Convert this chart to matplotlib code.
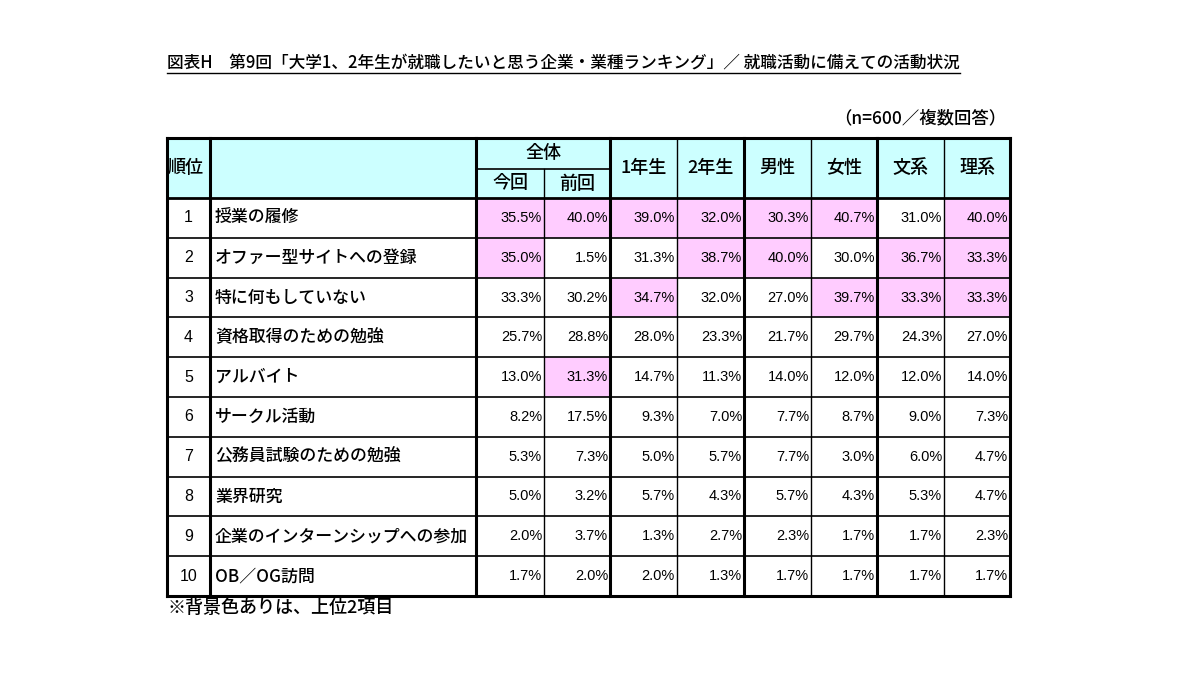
import numpy as np
import matplotlib.pyplot as plt
from matplotlib.patches import Rectangle

plt.rcParams['font.family'] = ['Noto Sans CJK JP', 'DejaVu Sans']

title = '図表H　第9回「大学1、2年生が就職したいと思う企業・業種ランキング」／ 就職活動に備えての活動状況'
note = '（n=600／複数回答）'
footnote = '※背景色ありは、上位2項目'

ranks = ['1', '2', '3', '4', '5', '6', '7', '8', '9', '10']
items = ['授業の履修', 'オファー型サイトへの登録', '特に何もしていない', '資格取得のための勉強',
         'アルバイト', 'サークル活動', '公務員試験のための勉強', '業界研究',
         '企業のインターンシップへの参加', 'OB／OG訪問']
columns = ['今回', '前回', '1年生', '2年生', '男性', '女性', '文系', '理系']

konkai = [35.5, 35.0, 33.3, 25.7, 13.0, 8.2, 5.3, 5.0, 2.0, 1.7]
zenkai = [40.0, 1.5, 30.2, 28.8, 31.3, 17.5, 7.3, 3.2, 3.7, 2.0]
nen1 = [39.0, 31.3, 34.7, 28.0, 14.7, 9.3, 5.0, 5.7, 1.3, 2.0]
nen2 = [32.0, 38.7, 32.0, 23.3, 11.3, 7.0, 5.7, 4.3, 2.7, 1.3]
dansei = [30.3, 40.0, 27.0, 21.7, 14.0, 7.7, 7.7, 5.7, 2.3, 1.7]
josei = [40.7, 30.0, 39.7, 29.7, 12.0, 8.7, 3.0, 4.3, 1.7, 1.7]
bunkei = [31.0, 36.7, 33.3, 24.3, 12.0, 9.0, 6.0, 5.3, 1.7, 1.7]
rikei = [40.0, 33.3, 33.3, 27.0, 14.0, 7.3, 4.7, 4.7, 2.3, 1.7]

# 上位2項目 (row, column) of highlighted cells
highlight = [(0, 0), (0, 1), (0, 2), (0, 3), (0, 4), (0, 5), (0, 7),
             (1, 0), (1, 3), (1, 4), (1, 6), (1, 7),
             (2, 2), (2, 5), (2, 6), (2, 7),
             (4, 1)]

values = np.array([konkai, zenkai, nen1, nen2, dansei, josei, bunkei, rikei]).T

# layout (pixels)
x_edges = [167, 210, 476, 544, 610, 677, 744, 811, 877, 944, 1010]
y_top, y_mid, y_head = 138, 169, 198
row_h = (596 - y_head) / len(items)
pink = '#FFCCFF'
cyan = '#CCFFFF'

fig = plt.figure(figsize=(12, 6.75), dpi=100)
ax = fig.add_axes([0, 0, 1, 1])
ax.set_xlim(0, 1200)
ax.set_ylim(675, 0)
ax.axis('off')

# header background
ax.add_patch(Rectangle((x_edges[0], y_top), x_edges[-1] - x_edges[0], y_head - y_top,
                       facecolor=cyan, edgecolor='none'))

# highlighted cells
for r, c in highlight:
    y0 = y_head + r * row_h
    ax.add_patch(Rectangle((x_edges[c + 2], y0), x_edges[c + 3] - x_edges[c + 2], row_h,
                           facecolor=pink, edgecolor='none'))

y_bot = y_head + len(items) * row_h

# horizontal lines
ax.plot([x_edges[0], x_edges[-1]], [y_top, y_top], color='black', lw=2.2)
ax.plot([x_edges[2], x_edges[4]], [y_mid, y_mid], color='black', lw=1.2)
ax.plot([x_edges[0], x_edges[-1]], [y_head, y_head], color='black', lw=2.0)
for r in range(1, len(items)):
    y = y_head + r * row_h
    ax.plot([x_edges[0], x_edges[-1]], [y, y], color='black', lw=1.2)
ax.plot([x_edges[0], x_edges[-1]], [y_bot, y_bot], color='black', lw=2.2)

# vertical lines
thick = {0, 1, 2, 4, 6, 8, 10}
for i, x in enumerate(x_edges):
    start = y_mid if i == 3 else y_top
    ax.plot([x, x], [start, y_bot], color='black', lw=2.2 if i in thick else 1.0)

# header text
hfs = 13
ax.text(x_edges[0] + 1, (y_top + y_head) / 2, '順位', fontsize=hfs, fontweight='medium',
        ha='left', va='center')
ax.text((x_edges[2] + x_edges[4]) / 2, (y_top + y_mid) / 2, '全体', fontsize=hfs,
        fontweight='medium', ha='center', va='center')
for c, name in enumerate(columns):
    xc = (x_edges[c + 2] + x_edges[c + 3]) / 2
    yc = (y_mid + y_head) / 2 if c < 2 else (y_top + y_head) / 2
    ax.text(xc, yc, name, fontsize=hfs, fontweight='medium', ha='center', va='center')

# body
num_font = ['Liberation Sans', 'Noto Sans CJK JP']
for r in range(len(items)):
    yc = y_head + (r + 0.5) * row_h
    ax.text((x_edges[0] + x_edges[1]) / 2, yc, ranks[r], fontsize=11.5, ha='center',
            va='center', family=num_font)
    ax.text(x_edges[1] + 5, yc, items[r], fontsize=12.2, fontweight='medium',
            ha='left', va='center')
    for c in range(len(columns)):
        ax.text(x_edges[c + 3] - 2, yc, f'{values[r, c]:.1f}%', fontsize=10.5,
                ha='right', va='center', family=num_font)

# title, note, footnote
t = ax.text(x_edges[0], 63, title, fontsize=12, fontweight='medium', ha='left', va='center')
fig.canvas.draw()
bb = t.get_window_extent().transformed(ax.transData.inverted())
ax.plot([bb.x0, bb.x1], [73, 73], color='black', lw=1.0)
ax.text(1006, 118, note, fontsize=12.5, fontweight='medium', ha='right', va='center')
ax.text(x_edges[0], 608, footnote, fontsize=13, fontweight='medium', ha='left', va='center')

fig.savefig('out.png', dpi=100)
